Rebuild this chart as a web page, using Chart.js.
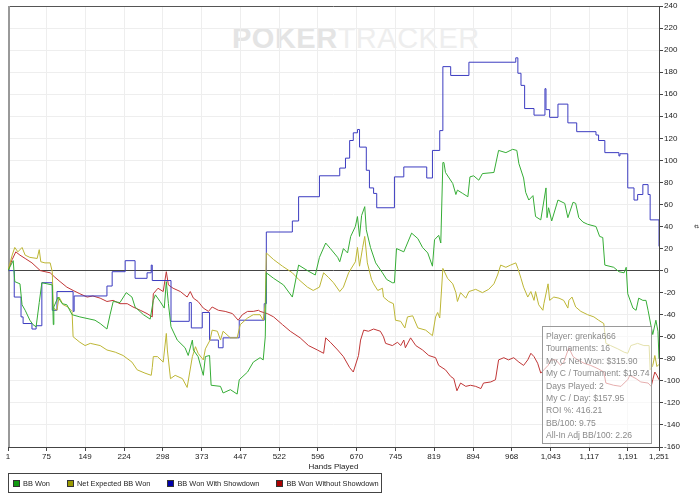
<!DOCTYPE html>
<html>
<head>
<meta charset="utf-8">
<script src="https://cdn.jsdelivr.net/npm/chart.js@4.4.0/dist/chart.umd.min.js"></script>
<style>
  body { margin: 0; background: #fff; font-family: "Liberation Sans", Arial, sans-serif; }
  #wrap { position: relative; width: 700px; height: 500px; overflow: hidden; }
  #mark { position: absolute; left: 232px; top: 22px; font-size: 29px; letter-spacing: 0.5px; white-space: nowrap; }
  #mark b { color: #e4e4e4; }
  #mark span { color: #eeeeee; }
  #chart { position: absolute; left: 0; top: 0; }
  #stats { position: absolute; left: 542px; top: 326px; width: 110px; height: 118px; border: 1px solid #9a9a9a;
           background: rgba(255,255,255,0.6); color: #8a8a8a; font-size: 8.6px; line-height: 12.4px; padding: 3px 0 0 3px;
           box-sizing: border-box; white-space: nowrap; }
  #legend { position: absolute; left: 8px; top: 473px; width: 374px; height: 20px; border: 1px solid #444; box-sizing: border-box;
            font-size: 7.4px; color: #222; display: flex; align-items: center; padding-left: 4px; white-space: nowrap; }
  #legend div { display: flex; align-items: center; margin-right: 17px; flex-shrink: 0; }
  #legend i { display: inline-block; width: 5px; height: 5px; border: 1px solid #333; margin-right: 3px; }
</style>
</head>
<body>
<div id="wrap">
  <div id="mark"><b>POKER</b><span>TRACKER</span></div>
  <canvas id="chart" width="700" height="500"></canvas>
  <div id="stats"></div>
  <div id="legend"></div>
</div>
<script>
const handTicks = [1, 75, 149, 224, 298, 373, 447, 522, 596, 670, 745, 819, 894, 968, 1043, 1117, 1191, 1251];

const seriesNames = ['BB Won', 'Net Expected BB Won', 'BB Won With Showdown', 'BB Won Without Showdown'];
const lineColors = ['#36ad36', '#bdb635', '#3c3cc0', '#c03636'];
const boxColors = ['#119911', '#999900', '#0000aa', '#aa0000'];

// [hand, value]
const bbWon = [[1,0],[11,9],[14,-10],[24,-12],[28,-31],[34,-36],[43,-45],[49,-49],[55,-51],[61,-29],[66,-11],[86,-13],[88,-49],[89,-33],[97,-24],[105,-30],[114,-31],[124,-40],[139,-42],[168,-45],[178,-48],[191,-53],[197,-40],[203,-28],[216,-29],[228,-20],[239,-24],[245,-33],[261,-40],[274,-44],[280,-27],[284,-22],[293,-28],[301,-34],[305,-10],[309,-30],[314,-51],[326,-63],[341,-70],[347,-77],[355,-63],[357,-72],[366,-78],[376,-95],[380,-78],[388,-77],[391,-104],[409,-105],[414,-111],[428,-108],[441,-112],[445,-99],[461,-92],[472,-83],[485,-79],[491,-81],[495,-60],[497,-2],[511,-7],[530,-13],[547,-24],[559,5],[576,0],[591,-4],[599,12],[611,25],[620,20],[634,12],[638,8],[645,20],[653,16],[659,31],[668,40],[672,49],[676,31],[680,50],[686,58],[689,37],[697,21],[707,7],[720,-2],[728,-8],[739,-11],[743,-11],[747,20],[761,17],[776,34],[788,29],[797,21],[807,16],[816,4],[820,28],[828,32],[832,25],[836,98],[838,98],[841,89],[855,79],[861,69],[864,73],[874,70],[884,67],[888,85],[895,86],[905,82],[912,88],[934,89],[943,109],[957,107],[970,110],[978,109],[982,97],[991,84],[995,71],[1001,64],[1009,68],[1014,49],[1024,46],[1034,75],[1036,48],[1039,57],[1045,45],[1057,64],[1070,61],[1076,48],[1086,62],[1091,61],[1097,48],[1105,44],[1114,42],[1130,40],[1137,31],[1143,30],[1147,5],[1164,3],[1174,-1],[1184,-2],[1188,3],[1191,-21],[1201,-34],[1207,-36],[1212,-25],[1220,-27],[1226,-27],[1230,-36],[1236,-51],[1239,-58],[1245,-45],[1249,-55],[1251,-80]];

const netExpected = [[1,0],[9,14],[14,21],[20,17],[28,21],[34,14],[43,12],[57,11],[61,19],[64,8],[72,7],[82,7],[86,-1],[88,-34],[95,-36],[99,-24],[107,-31],[116,-33],[124,-37],[126,-60],[139,-65],[149,-68],[159,-66],[178,-68],[191,-72],[207,-74],[222,-77],[239,-83],[249,-90],[264,-93],[276,-95],[278,-88],[280,-78],[288,-78],[299,-83],[305,-57],[307,-72],[313,-98],[322,-95],[336,-98],[345,-106],[355,-78],[361,-69],[366,-75],[376,-81],[380,-71],[389,-63],[393,-54],[403,-55],[409,-63],[414,-55],[428,-61],[441,-61],[447,-49],[461,-43],[472,-40],[485,-40],[491,-45],[495,-30],[497,16],[511,10],[528,4],[547,-2],[559,-8],[576,-15],[587,-18],[599,-15],[607,-2],[616,-6],[626,-11],[638,-19],[645,-15],[655,-2],[668,8],[672,21],[676,4],[682,21],[686,31],[691,7],[699,-8],[703,-12],[711,-18],[720,-16],[722,-24],[732,-28],[741,-30],[745,-45],[755,-46],[763,-52],[768,-42],[778,-41],[788,-52],[803,-54],[816,-59],[822,-42],[826,-38],[830,-43],[836,2],[845,-7],[855,-12],[861,-20],[864,-28],[870,-20],[880,-25],[886,-19],[899,-17],[912,-20],[924,-17],[934,-12],[941,-4],[947,5],[957,3],[966,5],[976,7],[980,2],[986,-7],[991,-15],[999,-24],[1005,-19],[1011,-27],[1014,-19],[1020,-31],[1028,-36],[1030,-30],[1038,-12],[1041,-27],[1049,-24],[1059,-25],[1068,-27],[1076,-34],[1078,-27],[1084,-24],[1091,-33],[1101,-37],[1114,-40],[1126,-42],[1135,-45],[1145,-48],[1149,-66],[1158,-68],[1172,-71],[1184,-74],[1191,-75],[1197,-68],[1210,-66],[1222,-68],[1232,-68],[1234,-90],[1239,-86],[1243,-77],[1247,-87],[1251,-85]];

const withShowdown = [[1,0],[13,-24],[26,-42],[30,-48],[47,-53],[55,-50],[66,-11],[86,-36],[95,-19],[126,-37],[128,-23],[191,-14],[201,-1],[226,9],[245,-7],[268,-2],[276,5],[278,-9],[314,-46],[349,-29],[353,-52],[374,-38],[388,-63],[405,-70],[414,-61],[445,-45],[493,-30],[497,35],[547,45],[559,67],[599,86],[638,93],[649,102],[657,118],[664,125],[672,128],[676,112],[689,91],[695,75],[703,70],[709,57],[743,85],[761,94],[805,84],[816,109],[830,127],[836,185],[851,177],[886,189],[976,193],[980,179],[986,168],[993,147],[1011,141],[1032,165],[1034,146],[1041,139],[1057,151],[1076,134],[1093,126],[1130,123],[1135,118],[1147,107],[1174,104],[1176,106],[1191,75],[1203,64],[1210,69],[1220,78],[1230,69],[1234,46],[1249,46],[1251,22]];

const withoutShowdown = [[1,0],[9,10],[16,17],[24,14],[34,11],[47,7],[63,0],[72,-1],[82,-2],[91,-6],[101,-10],[114,-15],[126,-18],[139,-21],[153,-24],[164,-23],[178,-25],[191,-28],[203,-27],[216,-30],[230,-30],[241,-33],[255,-36],[268,-39],[278,-42],[280,-21],[289,-16],[299,-19],[305,-1],[309,-13],[318,-16],[332,-19],[345,-24],[351,-19],[357,-25],[366,-28],[376,-34],[386,-37],[393,-33],[405,-36],[418,-37],[432,-39],[443,-45],[451,-40],[461,-37],[472,-37],[482,-36],[485,-37],[499,-39],[511,-42],[528,-49],[543,-55],[562,-61],[578,-68],[595,-72],[607,-75],[611,-61],[620,-65],[634,-72],[645,-78],[657,-88],[664,-92],[674,-77],[678,-63],[684,-54],[693,-55],[703,-53],[716,-55],[722,-60],[726,-66],[739,-68],[749,-65],[755,-68],[761,-63],[764,-70],[774,-61],[784,-68],[797,-72],[809,-77],[822,-79],[828,-86],[841,-90],[851,-96],[857,-98],[863,-109],[870,-102],[880,-105],[889,-104],[899,-105],[909,-107],[914,-102],[928,-101],[937,-99],[943,-81],[953,-79],[962,-81],[972,-79],[982,-83],[991,-86],[999,-81],[1005,-75],[1011,-78],[1018,-84],[1024,-93],[1030,-90],[1038,-86],[1043,-81],[1053,-81],[1062,-86],[1068,-83],[1078,-70],[1086,-78],[1095,-81],[1107,-84],[1120,-86],[1134,-89],[1145,-92],[1149,-102],[1164,-104],[1178,-105],[1184,-102],[1191,-99],[1195,-95],[1207,-98],[1216,-101],[1230,-102],[1236,-105],[1239,-99],[1243,-92],[1247,-95],[1251,-99]];

const statLines = ['Player: grenka666', 'Tournaments: 16', 'My C Net Won: $315.90', 'My C / Tournament: $19.74', 'Days Played: 2', 'My C / Day: $157.95', 'ROI %: 416.21', 'BB/100: 9.75', 'All-In Adj BB/100: 2.26'];

const allSeries = [bbWon, netExpected, withShowdown, withoutShowdown];

document.getElementById('stats').innerHTML = statLines.map(s => '<div>' + s + '</div>').join('');
document.getElementById('legend').innerHTML = seriesNames.map((n, i) =>
  '<div><i style="background:' + boxColors[i] + '"></i>' + n + '</div>').join('');

// grey left edge and dark top edge of the plot
const framePlugin = {
  id: 'frame',
  beforeDatasetsDraw(chart) {
    const { ctx, chartArea: a } = chart;
    ctx.save();
    ctx.strokeStyle = '#555';
    ctx.lineWidth = 1;
    ctx.beginPath();
    ctx.moveTo(a.left, a.top + 0.5);
    ctx.lineTo(a.right, a.top + 0.5);
    ctx.stroke();
    ctx.strokeStyle = '#999';
    ctx.lineWidth = 2;
    ctx.beginPath();
    ctx.moveTo(a.left + 1, a.top);
    ctx.lineTo(a.left + 1, a.bottom);
    ctx.stroke();
    ctx.restore();
  }
};

const tickFont = { family: '"Liberation Sans", Arial, sans-serif', size: 8 };

new Chart(document.getElementById('chart'), {
  type: 'line',
  data: {
    datasets: allSeries.map((s, i) => ({
      label: seriesNames[i],
      data: s.map(p => ({ x: p[0], y: p[1] })),
      borderColor: lineColors[i],
      backgroundColor: boxColors[i],
      borderWidth: 1,
      pointRadius: 0,
      tension: 0,
      stepped: i === 2
    }))
  },
  options: {
    responsive: false,
    animation: false,
    layout: { padding: { left: 8, top: 6, right: 0, bottom: 28 } },
    plugins: { legend: { display: false }, tooltip: { enabled: false } },
    scales: {
      x: {
        type: 'linear',
        min: 1,
        max: 1251,
        afterBuildTicks: scale => { scale.ticks = handTicks.map(v => ({ value: v })); },
        afterFit: scale => { scale.height = 25; },
        ticks: {
          autoSkip: false, maxRotation: 0, padding: 1, color: '#222', font: tickFont,
          callback: v => Number(v).toLocaleString('en-US')
        },
        grid: { color: '#eeeeee', tickColor: '#444', tickLength: 4 },
        border: { color: '#444' },
        title: { display: true, text: 'Hands Played', color: '#222', font: tickFont, padding: 0 }
      },
      y: {
        position: 'right',
        min: -160,
        max: 240,
        afterFit: scale => { scale.width = 41; },
        ticks: { stepSize: 20, padding: 1, color: '#222', font: tickFont },
        grid: {
          color: c => (c.tick && c.tick.value === 0 ? '#444' : '#eeeeee'),
          tickColor: '#444',
          tickLength: 4
        },
        border: { color: '#444' },
        title: { display: true, text: '#', color: '#222', font: { size: 7 }, padding: { top: 0, bottom: 8 } }
      }
    }
  },
  plugins: [framePlugin]
});
</script>
</body>
</html>
